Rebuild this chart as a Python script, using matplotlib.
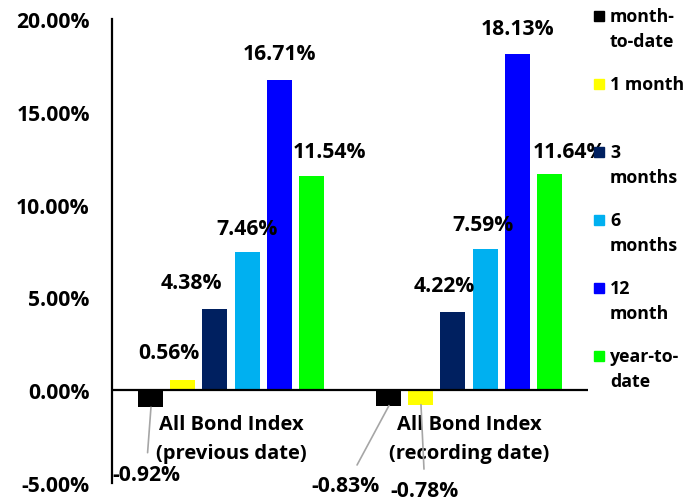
import matplotlib.pyplot as plt
from matplotlib.patches import Rectangle
from matplotlib.ticker import FuncFormatter
import numpy as np

# values in percent
groups = ['All Bond Index\n(previous date)', 'All Bond Index\n(recording date)']
series = ['month-\nto-date', '1 month', '3\nmonths', '6\nmonths', '12\nmonth', 'year-to-\ndate']
colors = ['#000000', '#FFFF00', '#002060', '#00B0F0', '#0000FF', '#00FF00']
prev_date = [-0.92, 0.56, 4.38, 7.46, 16.71, 11.54]
rec_date = [-0.83, -0.78, 4.22, 7.59, 18.13, 11.64]
values = [prev_date, rec_date]

# manual label offsets (pixels, y up) to mimic the hand-placed labels
label_offsets = [
    [(-5, -67), (-14, 27), (-24, 26), (0, 23), (0, 27), (18, 25)],
    [(-43, -80), (4, -86), (-9, 26), (-2, 25), (0, 25), (20, 23)],
]

plt.rcParams['font.family'] = ['Open Sans', 'DejaVu Sans']
plt.rcParams['font.weight'] = 'bold'
fs = 15.2

fig = plt.figure(figsize=(6.98, 5.02), dpi=100)
ax = fig.add_axes([112 / 698, 1 - 484 / 502, 476 / 698, 464 / 502])

width = 0.105
step = 0.1345
x = np.arange(len(groups))
for i, (name, col) in enumerate(zip(series, colors)):
    xs = x + (i - 2.5) * step
    vals = [values[g][i] for g in range(len(groups))]
    ax.bar(xs, vals, width=width, color=col, label=name, zorder=2)
    for g in range(len(groups)):
        v = vals[g]
        dx, dy = label_offsets[g][i]
        arrow = None
        if v < 0:
            arrow = dict(arrowstyle='-', color='#A6A6A6', lw=1.2, shrinkA=6, shrinkB=0)
        ax.annotate(f'{v:.2f}%', xy=(xs[g], v), xytext=(dx, dy),
                    textcoords='offset pixels', ha='center', va='center',
                    fontsize=fs, fontweight='bold', arrowprops=arrow)

ax.axhline(0, color='black', lw=1.6, zorder=3)
ax.set_xlim(-0.5, 1.5)
ax.set_ylim(-5, 20)
ax.set_yticks(np.arange(-5, 21, 5))
ax.yaxis.set_major_formatter(FuncFormatter(lambda v, p: f'{v:.2f}%'))
ax.tick_params(axis='y', length=0, pad=16, labelsize=fs)
ax.set_xticks(x, groups, fontsize=14.5, fontweight='bold', linespacing=1.65)
ax.tick_params(axis='x', length=0, pad=-50)
for lab in ax.get_yticklabels():
    lab.set_fontweight('bold')

for s in ['top', 'right', 'bottom']:
    ax.spines[s].set_visible(False)
ax.spines['left'].set_linewidth(1.6)

# legend drawn by hand so the square sits next to the first line
for i, (name, col) in enumerate(zip(series, colors)):
    yc = 17 + 68 * i
    fig.add_artist(Rectangle((594 / 698, 1 - (yc + 5) / 502), 10 / 698, 10 / 502,
                             transform=fig.transFigure, color=col))
    fig.text(610 / 698, 1 - (yc - 9) / 502, name, ha='left', va='top',
             fontsize=12.8, fontweight='bold', linespacing=1.5)

plt.savefig('out.png', dpi=100)
